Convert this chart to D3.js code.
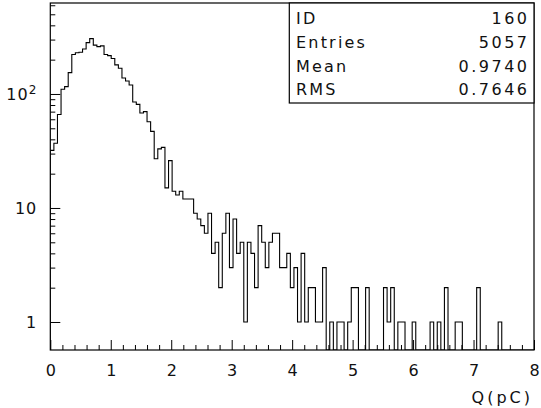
<!DOCTYPE html>
<html>
<head>
<meta charset="utf-8">
<script src="https://cdn.jsdelivr.net/npm/d3@7"></script>
<style>
  body { margin: 0; background: #fff; }
  svg text { font-family: "DejaVu Sans ExtraLight", "DejaVu Sans", sans-serif; fill: #111; }
</style>
</head>
<body>
<svg id="chart" width="541" height="408"></svg>
<script>
// Histogram 160: charge spectrum, 135 equal bins between 0 and 8 pC
const binLow = 0;
const binHigh = 8;
const counts = [
  32, 37, 66, 110, 116, 154, 222, 230, 232, 248,
  282, 306, 268, 260, 264, 222, 217, 205, 180, 168,
  138, 130, 120, 85, 81, 68, 70, 57, 47, 27,
  33, 34, 15, 26, 14, 13, 14, 12, 12, 12,
  9, 8, 7, 6, 9, 4, 5, 2, 6, 9,
  3, 8, 4, 5, 1, 5, 4, 2, 7, 5,
  3, 5, 6, 6, 3, 3, 4, 2, 3, 1,
  4, 1, 2, 2, 1, 1, 3, 0, 1, 0,
  1, 1, 0, 1, 2, 2, 0, 0, 2, 0,
  0, 0, 0, 2, 1, 2, 0, 1, 1, 0,
  0, 1, 0, 0, 0, 0, 1, 0, 1, 0,
  2, 0, 0, 1, 1, 0, 0, 0, 0, 2,
  0, 0, 0, 0, 0, 1, 0, 0, 0, 0,
  0, 0, 0, 0, 0
];

// axis ticks
const xMajorTicks = [0, 1, 2, 3, 4, 5, 6, 7, 8];
const xTickLabels = ["0", "1", "2", "3", "4", "5", "6", "7", "8"];
const xMinorTicks = d3.range(0, 40).map(i => i * 0.2).filter(v => Math.abs(v - Math.round(v)) > 1e-6);
const yMajorTicks = [1, 10, 100];
const yMinorTicks = [2, 3, 4, 5, 6, 7, 8, 9, 20, 30, 40, 50, 60, 70, 80, 90, 200, 300, 400, 500, 600];
const yRange = [0.568, 628];
const xTitle = "Q(pC)";

// statistics box
const statLabels = ["ID", "Entries", "Mean", "RMS"];
const statValues = ["160", "5057", "0.9740", "0.7646"];

const svg = d3.select("#chart");
const frame = { left: 50.3, right: 534, top: 3, bottom: 350 };
const fontStack = "DejaVu Sans ExtraLight, DejaVu Sans, sans-serif";

const x = d3.scaleLinear().domain([binLow, binHigh]).range([frame.left, frame.right]);
const y = d3.scaleLog().domain(yRange).range([frame.bottom, frame.top]);

svg.append("defs").append("clipPath").attr("id", "plotClip")
  .append("rect")
  .attr("x", frame.left).attr("y", frame.top)
  .attr("width", frame.right - frame.left).attr("height", frame.bottom - frame.top);

// histogram outline
const binWidth = (binHigh - binLow) / counts.length;
const yOf = v => v > 0 ? y(v) : frame.bottom;
const pts = [[x(binLow), frame.bottom]];
counts.forEach((c, i) => {
  pts.push([x(binLow + i * binWidth), yOf(c)]);
  pts.push([x(binLow + (i + 1) * binWidth), yOf(c)]);
});
pts.push([x(binHigh), frame.bottom]);

svg.append("path")
  .attr("clip-path", "url(#plotClip)")
  .attr("d", d3.line()(pts))
  .attr("fill", "none")
  .attr("stroke", "#000")
  .attr("stroke-width", 1.1);

// bottom axis: inward ticks
const xMinorAxis = d3.axisBottom(x).tickValues(xMinorTicks).tickSize(-5).tickFormat("");
const xMajorAxis = d3.axisBottom(x).tickValues(xMajorTicks).tickSize(-10)
  .tickPadding(14.6).tickFormat((d, i) => xTickLabels[i]);

const gxMinor = svg.append("g").attr("transform", `translate(0,${frame.bottom})`).call(xMinorAxis);
const gxMajor = svg.append("g").attr("transform", `translate(0,${frame.bottom})`).call(xMajorAxis);

// left axis: inward ticks
const yMinorAxis = d3.axisLeft(y).tickValues(yMinorTicks).tickSize(-5).tickFormat("");
const yMajorAxis = d3.axisLeft(y).tickValues(yMajorTicks).tickSize(-10)
  .tickPadding(13).tickFormat(d => d === 100 ? "10" : String(d));

const gyMinor = svg.append("g").attr("transform", `translate(${frame.left},0)`).call(yMinorAxis);
const gyMajor = svg.append("g").attr("transform", `translate(${frame.left},0)`).call(yMajorAxis);

[gxMinor, gxMajor, gyMinor, gyMajor].forEach(g => {
  g.select(".domain").remove();
  g.selectAll("line").attr("stroke", "#000").attr("stroke-width", 1);
  g.selectAll("text")
    .attr("font-family", fontStack)
    .attr("font-size", 16)
    .attr("fill", "#111");
});
gyMajor.selectAll("text").attr("letter-spacing", 1);

// superscript exponent on the 10^2 label
gyMajor.selectAll(".tick").filter(d => d === 100).select("text")
  .append("tspan").attr("dy", "-0.45em").attr("font-size", 12).attr("dx", 0).text("2");

// frame
svg.append("rect")
  .attr("x", frame.left).attr("y", frame.top)
  .attr("width", frame.right - frame.left).attr("height", frame.bottom - frame.top)
  .attr("fill", "none").attr("stroke", "#000").attr("stroke-width", 1.2);

// axis title
svg.append("text")
  .attr("x", 533).attr("y", 403)
  .attr("text-anchor", "end")
  .attr("font-size", 16)
  .attr("letter-spacing", 3)
  .text(xTitle);

// statistics box
const box = { left: 289.3, right: frame.right, top: frame.top, bottom: 103 };
svg.append("rect")
  .attr("x", box.left).attr("y", box.top)
  .attr("width", box.right - box.left).attr("height", box.bottom - box.top)
  .attr("fill", "#fff").attr("stroke", "#000").attr("stroke-width", 1.2);

const rows = svg.append("g").selectAll("g").data(statLabels).join("g")
  .attr("transform", (d, i) => `translate(0,${24 + i * 23.8})`);
rows.append("text")
  .attr("x", 296).attr("font-size", 16).attr("letter-spacing", 2.2)
  .text(d => d);
rows.append("text")
  .attr("x", 529.5).attr("text-anchor", "end").attr("font-size", 16).attr("letter-spacing", 2.5)
  .text((d, i) => statValues[i]);
</script>
</body>
</html>
